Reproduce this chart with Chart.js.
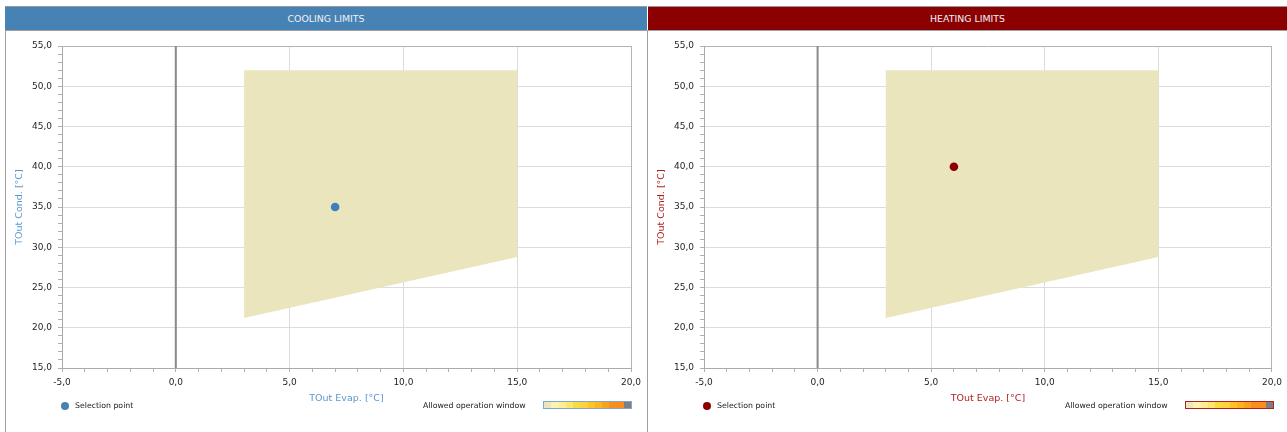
<!DOCTYPE html>
<html>
<head>
<meta charset="utf-8">
<script src="https://cdn.jsdelivr.net/npm/chart.js@4.4.1/dist/chart.umd.min.js"></script>
<style>
  html, body { margin: 0; padding: 0; background: #fff; width: 1287px; height: 432px; overflow: hidden; font-family: "DejaVu Sans", sans-serif; }
  .abs { position: absolute; }
  .hdr { position: absolute; top: 6px; height: 24px; line-height: 24px; text-align: center; color: #eef2f6; font-size: 9.4px; border-top: 1px solid #999; box-sizing: border-box; }
  .vline { position: absolute; top: 30px; width: 1px; height: 402px; background: #a0a0a0; }
  .hline { position: absolute; top: 30px; height: 1px; background: #a0a0a0; }
  .legtxt { position: absolute; font-size: 7.8px; color: #1a1a1a; line-height: 10px; white-space: nowrap; }
  .dot { position: absolute; width: 8px; height: 8px; border-radius: 50%; }
  .bar { position: absolute; height: 8px; display: flex; box-sizing: border-box; border: 1px solid; }
  .bar span { flex: 1; height: 100%; }
</style>
</head>
<body>
<div class="hdr" style="left:5px;width:642px;background:#4682b4;">COOLING LIMITS</div>
<div class="hdr" style="left:648px;width:639px;background:#8b0000;">HEATING LIMITS</div>
<div class="hline" style="left:5px;width:1282px;"></div>
<div class="vline" style="left:5px;"></div>
<div class="vline" style="left:647px;"></div>

<canvas id="cool" class="abs" style="left:6px;top:31px;" width="641" height="401"></canvas>
<canvas id="heat" class="abs" style="left:648px;top:31px;" width="639" height="401"></canvas>

<div class="dot" style="left:61px;top:402px;background:#4682b4;"></div>
<div class="legtxt" style="left:75px;top:401px;">Selection point</div>
<div class="legtxt" style="left:423px;top:401px;">Allowed operation window</div>
<div id="barCool" class="bar" style="left:543px;top:401px;width:89px;border-color:#7fa8d0;"></div>

<div class="dot" style="left:703px;top:402px;background:#8b0000;"></div>
<div class="legtxt" style="left:717px;top:401px;">Selection point</div>
<div class="legtxt" style="left:1065px;top:401px;">Allowed operation window</div>
<div id="barHeat" class="bar" style="left:1185px;top:401px;width:89px;border-color:#b02020;"></div>

<script>
// ---- data ----
const xMin = -5, xMax = 20;
const yMin = 15, yMax = 55;
const windowX = [3, 3, 15, 15, 3];
const windowY = [21.2, 52, 52, 28.8, 21.2];
const zeroLineX = [0, 0];
const zeroLineY = [15, 55];
const coolingPoint = [7, 35];
const heatingPoint = [6, 40];
const swatchColors = ['#ece6bd','#fdf3b0','#fdec93','#fce66f','#f6dc3c','#fdd23f','#fcc41d','#fbb41c','#f8a31c','#f58f22','#fd8a1b','#7f7f7f'];

// ---- legend swatches ----
for (const id of ['barCool', 'barHeat']) {
  const el = document.getElementById(id);
  swatchColors.forEach(c => { const s = document.createElement('span'); s.style.background = c; el.appendChild(s); });
}

const isMajor = v => Math.abs(v - Math.round(v / 5) * 5) < 1e-6;
const fmt = v => isMajor(v) ? Number(v).toFixed(1).replace('.', ',') : '';

function makeChart(id, point, pointColor, titleColor, rightPad) {
  const toXY = (xs, ys) => xs.map((x, i) => ({ x: x, y: ys[i] }));
  const gridColor = (ctx, maxV) => {
    const v = ctx.tick ? ctx.tick.value : null;
    if (v === null || !isMajor(v)) return 'rgba(0,0,0,0)';
    if (Math.abs(v - maxV) < 1e-6) return '#b4b4b4';
    return '#dcdcdc';
  };
  return new Chart(document.getElementById(id), {
    type: 'scatter',
    data: {
      datasets: [
        {
          data: [{ x: point[0], y: point[1] }],
          backgroundColor: pointColor, borderColor: pointColor,
          pointRadius: 4.3, pointHoverRadius: 4.3, borderWidth: 0, order: 0
        },
        {
          data: toXY(zeroLineX, zeroLineY), showLine: true,
          borderColor: '#8a8a8a', borderWidth: 2, pointRadius: 0, order: 1
        },
        {
          data: toXY(windowX, windowY), showLine: true, fill: 'shape',
          backgroundColor: 'rgb(234,229,188)', borderColor: 'rgba(0,0,0,0)', borderWidth: 0,
          pointRadius: 0, tension: 0, order: 2
        }
      ]
    },
    options: {
      responsive: false, animation: false, events: [],
      layout: { padding: { left: 8, top: 15, right: rightPad, bottom: 28 } },
      plugins: { legend: { display: false }, tooltip: { enabled: false } },
      scales: {
        x: {
          type: 'linear', min: xMin, max: xMax,
          afterFit: s => { s.height = 36; },
          border: { color: '#aaaaaa', width: 1 },
          grid: { color: ctx => gridColor(ctx, xMax), tickColor: '#b0b0b0', tickLength: 4, lineWidth: 1 },
          ticks: { stepSize: 1, autoSkip: false, maxRotation: 0, padding: 5, color: '#1e1e1e',
                   font: { family: 'DejaVu Sans', size: 9 }, callback: v => fmt(v) },
          title: { display: true, text: 'TOut Evap. [°C]', color: titleColor, padding: 0,
                   font: { family: 'DejaVu Sans', size: 9.5 } }
        },
        y: {
          type: 'linear', min: yMin, max: yMax,
          afterFit: s => { s.width = 48; },
          border: { color: '#aaaaaa', width: 1 },
          grid: { color: ctx => gridColor(ctx, yMax), tickColor: '#b0b0b0', tickLength: 4, lineWidth: 1 },
          ticks: { stepSize: 1, autoSkip: false, padding: 6, color: '#1e1e1e',
                   font: { family: 'DejaVu Sans', size: 9 }, callback: v => fmt(v) },
          title: { display: true, text: 'TOut Cond. [°C]', color: titleColor, padding: 0,
                   font: { family: 'DejaVu Sans', size: 9.5 } }
        }
      }
    }
  });
}

makeChart('cool', coolingPoint, '#3f7fba', '#5b98cf', 16);
makeChart('heat', heatingPoint, '#8b0000', '#b01e1e', 14);
</script>
</body>
</html>
